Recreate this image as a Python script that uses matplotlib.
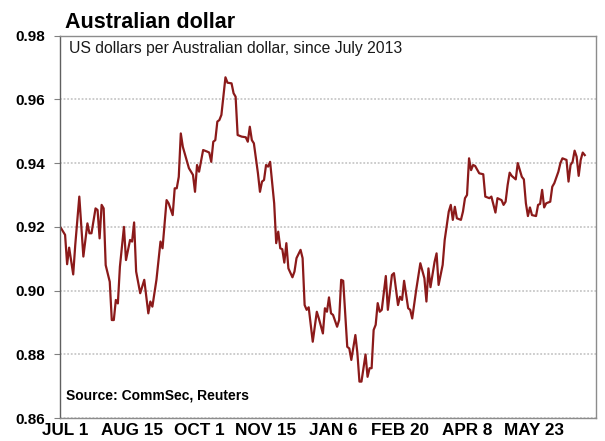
import matplotlib
matplotlib.use("Agg")
import matplotlib.pyplot as plt

plt.rcParams["font.family"] = ["Liberation Sans", "DejaVu Sans"]

# trading day number (day 0 = start of series) and AUD/USD close
day = [0, 2, 3, 4, 6, 7, 9, 11, 13, 14, 15, 17, 18, 19, 20, 21, 22, 24, 25, 26,
       27, 28, 29, 31, 32, 34, 35, 36, 37, 39, 41, 43, 44, 45, 47, 49, 50, 52, 53, 55,
       56, 57, 58, 59, 60, 63, 65, 66, 67, 68, 70, 72, 73, 74, 75, 76, 77, 78, 79, 81,
       82, 84, 85, 86, 87, 89, 91, 92, 93, 94, 95, 97, 98, 99, 100, 101, 102, 103, 105, 106,
       107, 108, 109, 110, 111, 112, 114, 115, 116, 118, 119, 120, 121, 122, 124, 126, 127, 129, 130, 131,
       132, 133, 134, 136, 137, 138, 139, 141, 142, 143, 145, 146, 147, 148, 150, 151, 152, 153, 154, 155,
       156, 157, 158, 160, 161, 163, 164, 166, 167, 168, 169, 171, 172, 173, 175, 177, 179, 180, 181, 182,
       184, 185, 186, 188, 189, 191, 192, 193, 194, 195, 197, 198, 199, 200, 201, 202, 203, 204, 206, 208,
       209, 211, 212, 214, 215, 217, 218, 219, 220, 221, 222, 224, 225, 227, 228, 229, 230, 231, 232, 234,
       235, 236, 237, 238, 239, 241, 242, 243, 245, 246, 247, 249, 250, 251, 252, 253, 254, 255, 256, 257,
       258]
rate = [0.9196, 0.9175, 0.9083, 0.9135, 0.9051, 0.9143, 0.9295, 0.9107, 0.9211, 0.9180,
        0.9180, 0.9258, 0.9253, 0.9164, 0.9269, 0.9258, 0.9080, 0.9028, 0.8908, 0.8908,
        0.8971, 0.8960, 0.9075, 0.9200, 0.9096, 0.9159, 0.9154, 0.9214, 0.9060, 0.8992,
        0.9034, 0.8929, 0.8966, 0.8950, 0.9034, 0.9154, 0.9133, 0.9284, 0.9274, 0.9237,
        0.9321, 0.9321, 0.9357, 0.9493, 0.9451, 0.9384, 0.9363, 0.9310, 0.9394, 0.9373,
        0.9441, 0.9436, 0.9433, 0.9404, 0.9467, 0.9472, 0.9530, 0.9535, 0.9551, 0.9669,
        0.9652, 0.9650, 0.9619, 0.9608, 0.9488, 0.9483, 0.9481, 0.9467, 0.9514, 0.9472,
        0.9462, 0.9368, 0.9310, 0.9342, 0.9347, 0.9394, 0.9389, 0.9404, 0.9274, 0.9149,
        0.9185, 0.9133, 0.9130, 0.9088, 0.9149, 0.9070, 0.9042, 0.9060, 0.9102, 0.9128,
        0.9102, 0.8955, 0.8940, 0.8948, 0.8840, 0.8934, 0.8913, 0.8866, 0.8945, 0.8934,
        0.8979, 0.8929, 0.8924, 0.8887, 0.8908, 0.9034, 0.9031, 0.8824, 0.8819, 0.8783,
        0.8861, 0.8804, 0.8715, 0.8715, 0.8800, 0.8730, 0.8757, 0.8757, 0.8877, 0.8893,
        0.8961, 0.8934, 0.8940, 0.9046, 0.8940, 0.9049, 0.9055, 0.8955, 0.8981, 0.8971,
        0.9031, 0.8945, 0.8940, 0.8913, 0.9004, 0.9086, 0.9039, 0.8966, 0.9070, 0.9011,
        0.9090, 0.9117, 0.9018, 0.9081, 0.9159, 0.9248, 0.9269, 0.9222, 0.9263, 0.9227,
        0.9222, 0.9248, 0.9290, 0.9300, 0.9415, 0.9378, 0.9394, 0.9391, 0.9368, 0.9365,
        0.9295, 0.9290, 0.9295, 0.9245, 0.9290, 0.9284, 0.9269, 0.9279, 0.9331, 0.9370,
        0.9360, 0.9349, 0.9400, 0.9357, 0.9349, 0.9274, 0.9234, 0.9261, 0.9237, 0.9234,
        0.9269, 0.9272, 0.9316, 0.9261, 0.9274, 0.9279, 0.9326, 0.9337, 0.9373, 0.9400,
        0.9415, 0.9410, 0.9342, 0.9394, 0.9404, 0.9439, 0.9420, 0.9360, 0.9410, 0.9433,
        0.9425]

tick_days = [2, 35, 68, 101, 134, 167, 200, 233]
tick_labels = ["JUL 1", "AUG 15", "OCT 1", "NOV 15", "JAN 6", "FEB 20", "APR 8", "MAY 23"]
y_ticks = [0.86, 0.88, 0.90, 0.92, 0.94, 0.96, 0.98]

fig = plt.figure(figsize=(6.05, 4.41), dpi=100)
ax = fig.add_axes([0.0992, 0.0515, 0.8858, 0.868])

ax.plot(day, rate, color="#8b1a1a", lw=1.6)

ax.set_xlim(-0.5, 263.5)
ax.set_ylim(0.86, 0.98)
ax.set_yticks(y_ticks)
ax.set_yticklabels(["%.2f" % v for v in y_ticks], fontweight="bold", fontsize=11)
ax.set_xticks(tick_days)
ax.set_xticklabels(tick_labels, fontweight="bold", fontsize=12.3)
ax.tick_params(axis="x", length=0, pad=3.5)
ax.tick_params(axis="y", length=4, pad=7, color="#808080")

ax.grid(axis="y", color="#c8c8c8", linestyle=(0, (1, 1)), lw=1.3)
ax.set_axisbelow(True)
for s in ax.spines.values():
    s.set_color("#8c8c8c")
    s.set_linewidth(1.0)
ax.spines["left"].set_color("#606060")

fig.text(65 / 605, 1 - 28 / 441, "Australian dollar", fontsize=15.5,
         fontweight="bold", va="baseline", ha="left")
fig.text(69 / 605, 1 - 48 / 441, "US dollars per Australian dollar, since July 2013",
         fontsize=11.3, va="center", ha="left", color="#1a1a1a")
fig.text(66 / 605, 1 - 395 / 441, "Source: CommSec, Reuters", fontsize=10,
         fontweight="bold", va="center", ha="left")

fig.savefig("out.png", dpi=100)
